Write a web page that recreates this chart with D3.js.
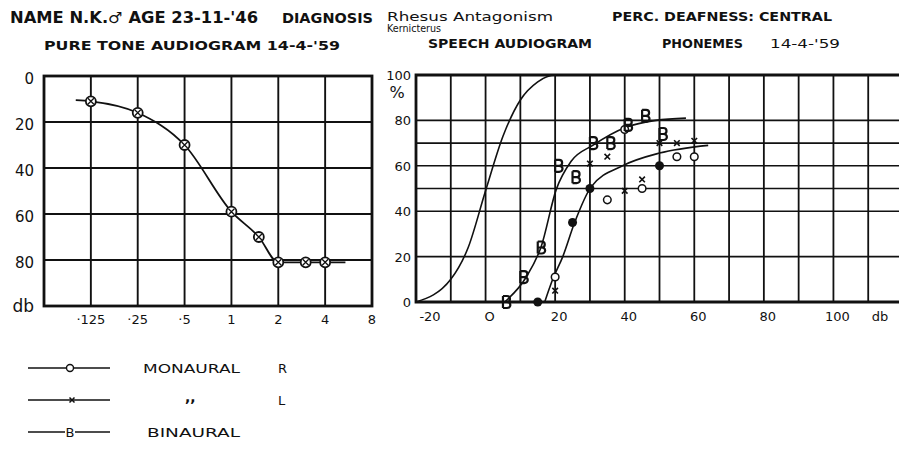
<!DOCTYPE html>
<html>
<head>
<meta charset="utf-8">
<script src="https://cdn.jsdelivr.net/npm/d3@7"></script>
<style>
  body { margin: 0; background: #fff; }
  svg { display: block; }
  text { font-family: "DejaVu Sans", sans-serif; fill: #111; }
</style>
</head>
<body>
<svg id="chart" width="899" height="452"></svg>
<script>
// PURE TONE AUDIOGRAM (freq in kHz, loss in db)
var ptFreq = [0.125, 0.25, 0.5, 1, 1.5, 2, 3, 4];
var ptDb = [11, 16, 30, 59, 70, 81, 81, 81];
var ptCurveFreq = [0.1, 0.125, 0.25, 0.5, 1, 1.5, 2, 3, 4, 5.4];
var ptCurveDb = [10.5, 11, 16, 30, 59, 70, 81, 81, 81, 81];
var ptTicks = [0.125, 0.25, 0.5, 1, 2, 4, 8];
var ptTickLabels = ["·125", "·25", "·5", "1", "2", "4", "8"];
var ptDbTicks = [0, 20, 40, 60, 80];

// SPEECH AUDIOGRAM (db, % phonemes correct)
var normalDb = [-20, -10, -5, 0, 5, 10, 15, 20, 22];
var normalPct = [0, 10, 24, 49, 73, 89, 97, 100, 100];
var binCurveDb = [5.5, 11.7, 16, 20.3, 24.6, 30.8, 40.4, 49, 57.6];
var binCurvePct = [0, 11, 24.5, 49.5, 62, 69, 77, 80, 81];
var monCurveDb = [17, 19.3, 22.2, 25.6, 30.3, 39.4, 50, 64];
var monCurvePct = [0, 10, 20, 35, 50.6, 60, 65.6, 69];

var binDb = [5, 10, 15, 20, 25, 30, 35, 40, 45, 50];
var binPct = [0, 11, 24, 60, 55, 70, 70, 78, 82, 74];
var monRDb = [20, 35, 40, 45, 55, 60];
var monRPct = [11, 45, 76, 50, 64, 64];
var monLDb = [20, 30, 35, 40, 45, 50, 55, 60];
var monLPct = [5, 61, 64, 49, 54, 70, 70, 71];
var filledDb = [15, 25, 30, 50];
var filledPct = [0, 35, 50, 60];

var spDbTicks = [-20, 0, 20, 40, 60, 80, 100];
var spDbLabels = ["-20", "O", "20", "40", "60", "80", "100"];
var spDbGrid = d3.range(-20, 121, 10);
var spPctTicks = [0, 20, 40, 60, 80, 100];
var spPctGrid = [0, 20, 40, 50, 60, 70, 80, 100];

var svg = d3.select("#chart");
var ink = "#111";

function zip(a, b) { return a.map(function(d, i) { return [d, b[i]]; }); }

// HEADER
var head = svg.append("g").style("font-weight", "bold");
head.append("text").attr("x", 10).attr("y", 23).attr("font-size", 15)
    .attr("textLength", 248).attr("lengthAdjust", "spacingAndGlyphs")
    .text("NAME N.K.♂ AGE 23-11-'46");
head.append("text").attr("x", 282).attr("y", 23).attr("font-size", 14)
    .attr("textLength", 91).attr("lengthAdjust", "spacingAndGlyphs")
    .text("DIAGNOSIS");
head.append("text").attr("x", 387).attr("y", 21).attr("font-size", 12).style("font-weight", "normal")
    .attr("textLength", 166).attr("lengthAdjust", "spacingAndGlyphs")
    .text("Rhesus Antagonism");
head.append("text").attr("x", 387).attr("y", 32).attr("font-size", 10).style("font-weight", "normal")
    .attr("textLength", 54).attr("lengthAdjust", "spacingAndGlyphs")
    .text("Kernicterus");
head.append("text").attr("x", 612).attr("y", 21).attr("font-size", 12)
    .attr("textLength", 220).attr("lengthAdjust", "spacingAndGlyphs")
    .text("PERC. DEAFNESS: CENTRAL");
head.append("text").attr("x", 44).attr("y", 50).attr("font-size", 12)
    .attr("textLength", 296).attr("lengthAdjust", "spacingAndGlyphs")
    .text("PURE TONE AUDIOGRAM 14-4-'59");
head.append("text").attr("x", 428).attr("y", 48).attr("font-size", 12)
    .attr("textLength", 164).attr("lengthAdjust", "spacingAndGlyphs")
    .text("SPEECH AUDIOGRAM");
head.append("text").attr("x", 662).attr("y", 48).attr("font-size", 12)
    .attr("textLength", 81).attr("lengthAdjust", "spacingAndGlyphs")
    .text("PHONEMES");
head.append("text").attr("x", 770).attr("y", 48).attr("font-size", 12).style("font-weight", "normal")
    .attr("textLength", 70).attr("lengthAdjust", "spacingAndGlyphs")
    .text("14-4-'59");

// PURE TONE CHART
var px = d3.scaleLog().base(2).domain([0.0625, 8]).range([44, 372]);
var py = d3.scaleLinear().domain([0, 100]).range([76, 306]);

var pt = svg.append("g");
pt.selectAll(".vg").data(ptTicks.slice(0, -1)).enter().append("line")
    .attr("x1", function(d) { return px(d); }).attr("x2", function(d) { return px(d); })
    .attr("y1", py(0)).attr("y2", py(100))
    .attr("stroke", ink).attr("stroke-width", 1.9);
pt.selectAll(".hg").data(ptDbTicks.slice(1)).enter().append("line")
    .attr("x1", px.range()[0]).attr("x2", px.range()[1])
    .attr("y1", function(d) { return py(d); }).attr("y2", function(d) { return py(d); })
    .attr("stroke", ink).attr("stroke-width", 1.9);
pt.append("rect").attr("x", px.range()[0]).attr("y", py(0))
    .attr("width", px.range()[1] - px.range()[0]).attr("height", py(100) - py(0))
    .attr("fill", "none").attr("stroke", ink).attr("stroke-width", 2.8);

pt.selectAll(".yl").data(ptDbTicks).enter().append("text")
    .attr("x", 34).attr("y", function(d) { return py(d) + 8; })
    .attr("text-anchor", "end").attr("font-size", 15)
    .text(function(d) { return d; });
pt.append("text").attr("x", 34).attr("y", py(100) + 6).attr("text-anchor", "end")
    .attr("font-size", 17).text("db");
pt.selectAll(".xl").data(ptTicks).enter().append("text")
    .attr("x", function(d) { return px(d); }).attr("y", 324)
    .attr("text-anchor", "middle").attr("font-size", 13)
    .text(function(d, i) { return ptTickLabels[i]; });

var ptLine = d3.line()
    .x(function(d) { return px(d[0]); }).y(function(d) { return py(d[1]); })
    .curve(d3.curveMonotoneX);
pt.append("path").datum(zip(ptCurveFreq, ptCurveDb)).attr("d", ptLine)
    .attr("fill", "none").attr("stroke", ink).attr("stroke-width", 1.8);

var ptMarks = pt.selectAll(".pm").data(zip(ptFreq, ptDb)).enter().append("g")
    .attr("transform", function(d) { return "translate(" + px(d[0]) + "," + py(d[1]) + ")"; });
ptMarks.append("circle").attr("r", 5).attr("fill", "#fff").attr("stroke", ink).attr("stroke-width", 1.8);
ptMarks.append("path").attr("d", "M-3,-3L3,3M-3,3L3,-3").attr("stroke", ink).attr("stroke-width", 1.3);

// SPEECH CHART
var sx = d3.scaleLinear().domain([-20, 120]).range([416, 903]);
var sy = d3.scaleLinear().domain([0, 100]).range([302, 75]);

var sp = svg.append("g");
sp.selectAll(".vg").data(spDbGrid).enter().append("line")
    .attr("x1", function(d) { return sx(d); }).attr("x2", function(d) { return sx(d); })
    .attr("y1", sy(0)).attr("y2", sy(100))
    .attr("stroke", ink).attr("stroke-width", 1.8);
sp.selectAll(".hg").data(spPctGrid).enter().append("line")
    .attr("x1", sx(-20)).attr("x2", 899)
    .attr("y1", function(d) { return sy(d); }).attr("y2", function(d) { return sy(d); })
    .attr("stroke", ink).attr("stroke-width", 1.6);
sp.append("path")
    .attr("d", "M" + 899 + "," + sy(100) + "H" + sx(-20) + "V" + sy(0) + "H" + 899)
    .attr("fill", "none").attr("stroke", ink).attr("stroke-width", 2.8);

sp.selectAll(".yl").data(spPctTicks).enter().append("text")
    .attr("x", 411).attr("y", function(d) { return sy(d) + 5; })
    .attr("text-anchor", "end").attr("font-size", 13)
    .text(function(d) { return d; });
sp.append("text").attr("x", 397).attr("y", 98).attr("text-anchor", "middle")
    .attr("font-size", 16).text("%");
sp.selectAll(".xl").data(spDbTicks).enter().append("text")
    .attr("x", function(d, i) { return sx(d) + (i == 0 ? 14 : 4); }).attr("y", 321)
    .attr("text-anchor", "middle").attr("font-size", 13)
    .text(function(d, i) { return spDbLabels[i]; });
sp.append("text").attr("x", 880).attr("y", 321).attr("text-anchor", "middle")
    .attr("font-size", 13).text("db");

var spLine = d3.line()
    .x(function(d) { return sx(d[0]); }).y(function(d) { return sy(d[1]); })
    .curve(d3.curveMonotoneX);
[zip(normalDb, normalPct), zip(binCurveDb, binCurvePct), zip(monCurveDb, monCurvePct)].forEach(function(c) {
  sp.append("path").datum(c).attr("d", spLine)
    .attr("fill", "none").attr("stroke", ink).attr("stroke-width", 1.6);
});

// markers
sp.selectAll(".fd").data(zip(filledDb, filledPct)).enter().append("circle")
    .attr("cx", function(d) { return sx(d[0]); }).attr("cy", function(d) { return sy(d[1]); })
    .attr("r", 4.5).attr("fill", ink);
sp.selectAll(".oc").data(zip(monRDb, monRPct)).enter().append("circle")
    .attr("cx", function(d) { return sx(d[0]); }).attr("cy", function(d) { return sy(d[1]); })
    .attr("r", 3.8).attr("fill", "#fff").attr("stroke", ink).attr("stroke-width", 1.5);
sp.selectAll(".xc").data(zip(monLDb, monLPct)).enter().append("path")
    .attr("transform", function(d) { return "translate(" + sx(d[0]) + "," + sy(d[1]) + ")"; })
    .attr("d", "M-2.8,-2.8L2.8,2.8M-2.8,2.8L2.8,-2.8")
    .attr("stroke", ink).attr("stroke-width", 1.6);
// binaural "B" marker drawn as a pen-stroke glyph
var bGlyph = "M-3,-6V6M-3,-6H1A3,3 0 0 1 1,0H-3M1,0A3.4,3 0 0 1 1,6H-3";
sp.selectAll(".bb").data(zip(binDb, binPct)).enter().append("path")
    .attr("transform", function(d) { return "translate(" + (sx(d[0]) + 3) + "," + sy(d[1]) + ")"; })
    .attr("d", bGlyph)
    .attr("fill", "none").attr("stroke", ink).attr("stroke-width", 2.2);

// LEGEND
var legend = svg.append("g");
var legY = [368, 400, 432];
legY.forEach(function(y, i) {
  legend.append("line").attr("x1", 28).attr("x2", 110).attr("y1", y).attr("y2", y)
      .attr("stroke", ink).attr("stroke-width", 1.3);
});
legend.append("circle").attr("cx", 70).attr("cy", legY[0]).attr("r", 3.5)
    .attr("fill", "#fff").attr("stroke", ink).attr("stroke-width", 1.4);
legend.append("path").attr("transform", "translate(72," + legY[1] + ")")
    .attr("d", "M-2.5,-2.5L2.5,2.5M-2.5,2.5L2.5,-2.5").attr("stroke", ink).attr("stroke-width", 1.5);
legend.append("rect").attr("x", 65).attr("y", legY[2] - 6).attr("width", 10).attr("height", 12).attr("fill", "#fff");
legend.append("text").attr("x", 70).attr("y", legY[2] + 5).attr("text-anchor", "middle")
    .attr("font-size", 13).text("B");

legend.append("text").attr("x", 143).attr("y", 373).attr("font-size", 13)
    .attr("textLength", 97).attr("lengthAdjust", "spacingAndGlyphs").text("MONAURAL");
legend.append("text").attr("x", 278).attr("y", 373).attr("font-size", 13).text("R");
legend.append("text").attr("x", 185).attr("y", 402).attr("font-size", 14).style("font-weight", "bold").text(",,");
legend.append("text").attr("x", 278).attr("y", 405).attr("font-size", 13).text("L");
legend.append("text").attr("x", 147).attr("y", 437).attr("font-size", 13)
    .attr("textLength", 93).attr("lengthAdjust", "spacingAndGlyphs").text("BINAURAL");
</script>
</body>
</html>
